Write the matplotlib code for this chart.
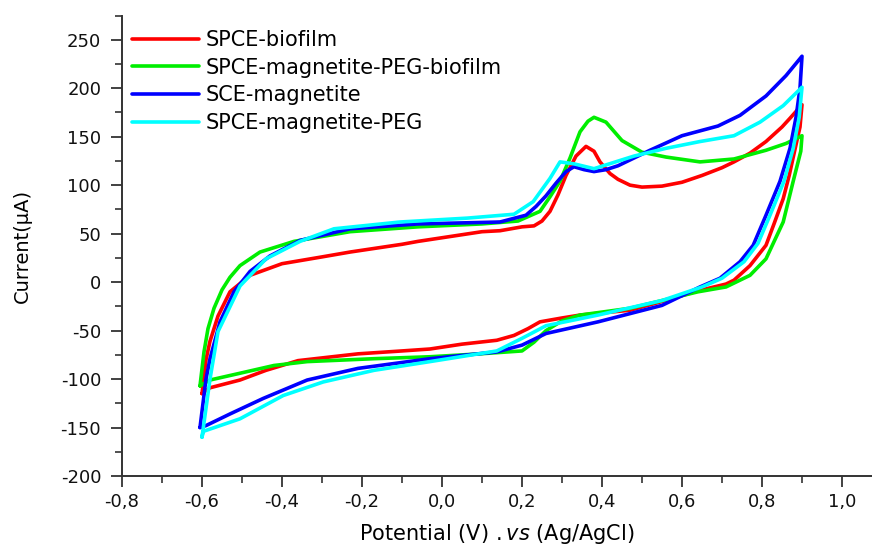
import numpy as np
import matplotlib
matplotlib.use("Agg")
import matplotlib.pyplot as plt
from matplotlib.ticker import MultipleLocator, FuncFormatter

# Cyclic voltammograms, potential (V vs Ag/AgCl) and current (uA),
# each loop = anodic scan -0.6 -> 0.9 then cathodic scan back.
labels = [
    "SPCE-biofilm",
    "SPCE-magnetite-PEG-biofilm",
    "SCE-magnetite",
    "SPCE-magnetite-PEG",
]
colors = ["#ff0000", "#00ee00", "#0000ff", "#00ffff"]

biofilm_v = [-0.6, -0.59, -0.58, -0.56, -0.53, -0.48, -0.4, -0.3, -0.23, -0.1, -0.06,
             0.02, 0.1, 0.145, 0.2, 0.23, 0.25, 0.27, 0.29, 0.31, 0.335, 0.36, 0.38,
             0.395, 0.42, 0.44, 0.47, 0.5, 0.55, 0.6, 0.65, 0.7, 0.73, 0.77, 0.81,
             0.85, 0.87, 0.9,
             0.895, 0.883, 0.868, 0.853, 0.83, 0.81, 0.77, 0.73, 0.71, 0.64, 0.55,
             0.47, 0.345, 0.3, 0.245, 0.215, 0.18, 0.137, 0.05, -0.03, -0.1, -0.21,
             -0.36, -0.44, -0.505, -0.58, -0.6]
biofilm_i = [-115, -80, -61, -35, -10, 7, 19, 26, 31, 39, 42,
             47, 52, 53, 57, 58, 63, 73, 90, 110, 130, 140, 135,
             124, 112, 106, 100, 98, 99, 103, 110, 118, 124, 133, 145,
             160, 169, 183,
             160, 138, 110, 86, 60, 38, 17, 2, -2, -9, -20,
             -29, -34, -37, -41, -48, -55, -60, -64, -69, -71, -74,
             -81, -91, -101, -109, -115]

peg_biofilm_v = [-0.605, -0.595, -0.585, -0.57, -0.55, -0.53, -0.505, -0.455, -0.37, -0.3,
                 -0.23, -0.06, 0.1, 0.19, 0.245, 0.27, 0.295, 0.32, 0.345, 0.365, 0.38,
                 0.41, 0.45, 0.5, 0.56, 0.645, 0.73, 0.81, 0.86, 0.9,
                 0.897, 0.878, 0.853, 0.81, 0.77, 0.71, 0.64, 0.47, 0.345, 0.3, 0.26,
                 0.23, 0.2, 0.095, -0.03, -0.17, -0.337, -0.42, -0.505, -0.58, -0.605]
peg_biofilm_i = [-107, -72, -48, -27, -8, 5, 17, 31, 42, 47,
                 52, 57, 60, 63, 73, 88, 104, 128, 155, 166, 170,
                 165, 146, 134, 129, 124, 127, 136, 143, 151,
                 135, 104, 62, 24, 7, -5, -10, -27, -34, -40, -50,
                 -62, -71, -74, -77, -79, -82, -86, -94, -101, -107]

magnetite_v = [-0.605, -0.59, -0.58, -0.555, -0.52, -0.48, -0.43, -0.355, -0.23, -0.06,
               0.145, 0.21, 0.235, 0.26, 0.285, 0.31, 0.33, 0.355, 0.38, 0.41, 0.44,
               0.52, 0.6, 0.69, 0.745, 0.81, 0.86, 0.9,
               0.895, 0.885, 0.87, 0.845, 0.81, 0.778, 0.745, 0.695, 0.645, 0.55,
               0.39, 0.26, 0.2, 0.137, -0.03, -0.21, -0.337, -0.447, -0.53, -0.59, -0.605]
magnetite_i = [-150, -100, -79, -41, -10, 11, 27, 43, 55, 60,
               62, 69, 78, 89, 102, 114, 119, 116, 114, 116, 120,
               136, 151, 161, 172, 192, 213, 233,
               200, 170, 138, 104, 69, 38, 21, 4, -5, -24,
               -41, -53, -65, -72, -79, -89, -101, -120, -136, -148, -150]

magnetite_peg_v = [-0.6, -0.58, -0.56, -0.505, -0.44, -0.355, -0.27, -0.105, 0.063, 0.18,
                   0.228, 0.27, 0.295, 0.33, 0.38, 0.48, 0.56, 0.645, 0.73, 0.795,
                   0.853, 0.9,
                   0.893, 0.878, 0.855, 0.82, 0.79, 0.755, 0.7, 0.65, 0.55, 0.39, 0.26,
                   0.2, 0.137, -0.03, -0.17, -0.297, -0.397, -0.505, -0.597, -0.6]
magnetite_peg_i = [-160, -100, -51, -4, 24, 42, 55, 62, 66, 70,
                   83, 107, 124, 122, 117, 130, 138, 145, 151, 165,
                   182, 201,
                   170, 138, 104, 69, 40, 21, 4, -5, -19, -34, -45,
                   -58, -71, -82, -91, -103, -117, -141, -154, -160]

potentials = [biofilm_v, peg_biofilm_v, magnetite_v, magnetite_peg_v]
currents = [biofilm_i, peg_biofilm_i, magnetite_i, magnetite_peg_i]

plt.rcParams["font.family"] = ["DejaVu Sans"]

fig = plt.figure(figsize=(8.72, 5.47), dpi=100)
ax = fig.add_axes([122 / 872, 71 / 547, 750 / 872, 460.5 / 547])

for v, i, c, lab in zip(potentials, currents, colors, labels):
    ax.plot(v, i, color=c, lw=2.6, label=lab,
            solid_joinstyle="round", solid_capstyle="round")

ax.set_xlim(-0.8, 1.075)
ax.set_ylim(-200, 275)

ax.xaxis.set_major_locator(MultipleLocator(0.2))
ax.xaxis.set_minor_locator(MultipleLocator(0.1))
ax.yaxis.set_major_locator(MultipleLocator(50))
ax.yaxis.set_minor_locator(MultipleLocator(25))
ax.xaxis.set_major_formatter(FuncFormatter(lambda x, p: f"{x:.1f}".replace(".", ",")))
ax.yaxis.set_major_formatter(FuncFormatter(lambda y, p: f"{y:.0f}"))

for s in ("top", "right"):
    ax.spines[s].set_visible(False)
for s in ("left", "bottom"):
    ax.spines[s].set_linewidth(1.4)
    ax.spines[s].set_color("#333333")

ax.tick_params(which="major", direction="out", length=8, width=1.3,
               labelsize=13, colors="#333333", labelcolor="#111111")
ax.tick_params(axis="y", which="major", pad=7)
ax.tick_params(axis="x", which="major", pad=4)
ax.tick_params(which="minor", direction="out", length=5, width=1.2, colors="#333333")

ax.set_ylabel("Current(μA)", fontsize=14, labelpad=21)
ax.set_xlabel(r"Potential (V) $\mathit{.vs}$ (Ag/AgCl)", fontsize=15, labelpad=8)

ax.legend(loc="upper left", bbox_to_anchor=(132 / 872, (547 - 30) / 547),
          bbox_transform=fig.transFigure, frameon=False, fontsize=15,
          borderpad=0, borderaxespad=0, handlelength=3.2, handletextpad=0.35,
          labelspacing=0.37)

fig.savefig("out.png", dpi=100)
